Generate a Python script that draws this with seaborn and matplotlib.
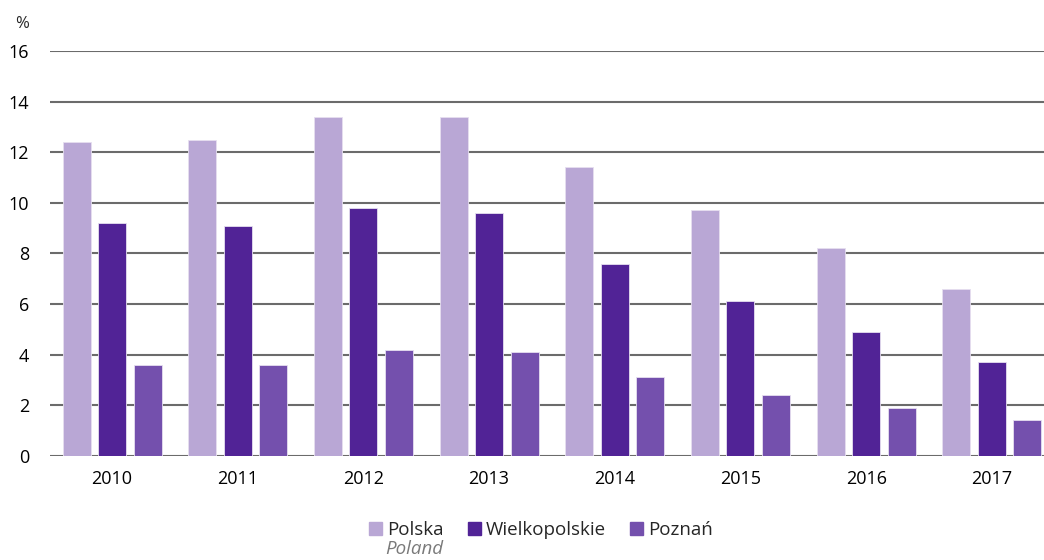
import pandas as pd
import numpy as np
import seaborn as sns
import matplotlib.pyplot as plt
import matplotlib.patches as mpatches

# DATA
years = ["2010", "2011", "2012", "2013", "2014", "2015", "2016", "2017"]
polska = [12.4, 12.5, 13.4, 13.4, 11.4, 9.7, 8.2, 6.6]
wielkopolskie = [9.2, 9.1, 9.8, 9.6, 7.6, 6.1, 4.9, 3.7]
poznan = [3.6, 3.6, 4.2, 4.1, 3.1, 2.4, 1.9, 1.4]
series_names = ["Polska", "Wielkopolskie", "Poznań"]
colors = ["#B9A7D5", "#512396", "#7450AD"]

df = pd.DataFrame({
    "year": years * 3,
    "value": polska + wielkopolskie + poznan,
    "series": [series_names[0]] * 8 + [series_names[1]] * 8 + [series_names[2]] * 8,
})

sns.set_style("white")
plt.rcParams['font.family'] = ['Open Sans', 'DejaVu Sans']

fig = plt.figure(figsize=(10.44, 5.6), dpi=100)
ax = fig.add_axes([0.048, 0.186, 0.952, 0.723])

sns.barplot(data=df, x="year", y="value", hue="series", palette=colors,
            width=0.847, gap=0.21, ax=ax, legend=False, saturation=1,
            edgecolor="#e6dff0", linewidth=0.6, zorder=3)

ax.set_ylim(0, 16)
ax.set_xlim(-0.493, 7.415)
ax.set_yticks(np.arange(0, 17, 2))
ax.yaxis.grid(True, color="#6b6b6b", linewidth=1.5, zorder=0)
ax.set_axisbelow(True)
for s in ax.spines.values():
    s.set_visible(False)
ax.tick_params(axis="both", length=0, labelsize=13, colors="black")
ax.tick_params(axis="x", pad=10)
ax.tick_params(axis="y", pad=15)
ax.set_xlabel("")
ax.set_ylabel("")

fig.text(0.021, 0.958, "%", fontsize=12, ha="center", va="center")

# LEGEND
handles = [mpatches.Patch(color=c, label=n) for c, n in zip(colors, series_names)]
fig.legend(handles=handles, loc="center", bbox_to_anchor=(0.518, 0.054), ncol=3,
           frameon=False, fontsize=13.5, handlelength=0.7, handleheight=0.7,
           handletextpad=0.25, columnspacing=1.3)
fig.text(0.369, 0.019, "Poland", fontsize=13.5, style="italic", color="#7a7a7a",
         ha="left", va="center")

fig.savefig("out.png", dpi=100)
